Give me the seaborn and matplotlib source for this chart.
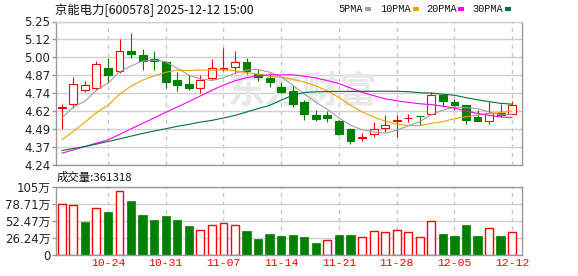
import numpy as np
import pandas as pd
import matplotlib
matplotlib.use("Agg")
import matplotlib.pyplot as plt
import seaborn as sns
from matplotlib.patches import Rectangle

# ---------------- data ----------------
title = "京能电力[600578] 2025-12-12 15:00"
opens = [4.64, 4.67, 4.765, 4.78, 4.92, 4.905, 5.04, 5.015, 4.985, 4.965,
         4.84, 4.81, 4.78, 4.85, 4.915, 4.927, 4.967, 4.88, 4.855, 4.79,
         4.762, 4.684, 4.594, 4.589, 4.55, 4.495, 4.433, 4.46, 4.502, 4.55,
         4.568, 4.587, 4.60, 4.736, 4.68, 4.66, 4.578, 4.55, 4.606, 4.60]
closes = [4.645, 4.81, 4.80, 4.95, 4.875, 5.04, 5.02, 4.975, 4.975, 4.825,
          4.805, 4.785, 4.84, 4.92, 4.92, 4.962, 4.903, 4.856, 4.825, 4.755,
          4.667, 4.597, 4.566, 4.568, 4.455, 4.412, 4.437, 4.495, 4.523, 4.555,
          4.572, 4.583, 4.73, 4.69, 4.66, 4.555, 4.55, 4.608, 4.59, 4.665]
highs = [4.67, 4.86, 4.83, 4.97, 4.99, 5.13, 5.17, 5.055, 5.04, 4.975,
         4.895, 4.875, 4.875, 4.985, 5.06, 5.043, 4.995, 4.913, 4.885, 4.825,
         4.795, 4.696, 4.63, 4.62, 4.56, 4.497, 4.464, 4.542, 4.589, 4.59,
         4.597, 4.587, 4.755, 4.74, 4.707, 4.662, 4.63, 4.68, 4.672, 4.69]
lows = [4.49, 4.64, 4.755, 4.765, 4.82, 4.885, 4.99, 4.91, 4.91, 4.785,
        4.76, 4.765, 4.745, 4.84, 4.90, 4.89, 4.88, 4.83, 4.79, 4.745,
        4.645, 4.56, 4.547, 4.542, 4.448, 4.39, 4.408, 4.436, 4.471, 4.436,
        4.542, 4.52, 4.597, 4.648, 4.625, 4.526, 4.548, 4.53, 4.578, 4.597]
ma5 = [4.571, 4.648, 4.689, 4.766, 4.816, 4.895, 4.937, 4.972, 4.977, 4.967,
       4.920, 4.873, 4.846, 4.835, 4.854, 4.885, 4.909, 4.912, 4.893, 4.860,
       4.801, 4.740, 4.682, 4.631, 4.571, 4.520, 4.488, 4.473, 4.464, 4.484,
       4.516, 4.546, 4.593, 4.626, 4.647, 4.644, 4.637, 4.613, 4.593, 4.594]
ma10 = [4.417, 4.476, 4.542, 4.608, 4.660, 4.738, 4.795, 4.837, 4.868, 4.892,
        4.908, 4.905, 4.909, 4.906, 4.911, 4.903, 4.891, 4.879, 4.864, 4.857,
        4.843, 4.825, 4.797, 4.762, 4.715, 4.660, 4.614, 4.578, 4.548, 4.528,
        4.518, 4.517, 4.533, 4.545, 4.566, 4.580, 4.591, 4.603, 4.609, 4.620]
ma20 = [4.323, 4.346, 4.370, 4.394, 4.417, 4.455, 4.495, 4.533, 4.571, 4.611,
        4.648, 4.686, 4.726, 4.766, 4.802, 4.833, 4.854, 4.868, 4.875, 4.874,
        4.875, 4.865, 4.853, 4.834, 4.813, 4.782, 4.752, 4.728, 4.706, 4.692,
        4.681, 4.671, 4.665, 4.654, 4.641, 4.620, 4.603, 4.590, 4.578, 4.574]
ma30 = [4.342, 4.356, 4.370, 4.387, 4.405, 4.424, 4.443, 4.462, 4.479, 4.495,
        4.512, 4.526, 4.542, 4.554, 4.571, 4.589, 4.613, 4.637, 4.660, 4.696,
        4.731, 4.750, 4.755, 4.757, 4.758, 4.758, 4.758, 4.759, 4.759, 4.759,
        4.756, 4.749, 4.746, 4.738, 4.731, 4.714, 4.699, 4.686, 4.674, 4.668]
volumes_wan = [79.1, 77.6, 50.2, 72.9, 65.7, 99.3, 82.8, 61.0, 53.3, 59.5,
               53.3, 45.0, 38.8, 46.5, 49.7, 46.5, 37.8, 25.3, 33.1, 30.0,
               31.2, 28.4, 19.1, 22.8, 31.0, 31.0, 27.9, 37.2, 35.7, 38.8,
               35.7, 27.9, 52.7, 32.6, 29.5, 46.5, 29.5, 41.9, 29.5, 36.13]
vol_up = [1, 1, 0, 1, 0, 1, 0, 0, 0, 0,
          0, 0, 1, 1, 1, 1, 0, 0, 0, 0,
          0, 0, 0, 1, 0, 0, 1, 1, 1, 1,
          1, 1, 1, 0, 0, 0, 0, 1, 0, 1]
volume_label = "成交量:361318"
date_labels = ["10-24", "10-31", "11-07", "11-14", "11-21", "11-28", "12-05", "12-12"]
date_positions = [4, 9, 14, 19, 24, 29, 34, 39]
price_tick_labels = ["4.24", "4.37", "4.49", "4.62", "4.74", "4.87", "5.00", "5.12", "5.25"]
vol_tick_values = [0, 26.24, 52.47, 78.71, 105]
vol_tick_labels = ["0", "26.24万", "52.47万", "78.71万", "105万"]
ma_names = ["5PMA", "10PMA", "20PMA", "30PMA"]

# ---------------- style ----------------
sns.set_theme(style="white")
plt.rcParams["font.family"] = ["DejaVu Sans", "Noto Sans CJK SC"]

RED = "#ff0000"
GREEN = "#008000"
ma_colors = {"5PMA": "#a0a0a0", "10PMA": "#f5a000", "20PMA": "#ff00ff", "30PMA": "#00703c"}
FRAME = "#999999"
GRID = "#d0d0d0"
LW = 0.8

W, H = 578, 276
fig = plt.figure(figsize=(W / 100, H / 100), dpi=100)
fig.patch.set_facecolor("white")


def fx(px):
    return px / W


def fy(py):
    return 1 - py / H


ax = fig.add_axes([fx(56), fy(165), fx(522) - fx(56), fy(21.5) - fy(165)])
axv = fig.add_axes([fx(56), fy(255), fx(522) - fx(56), fy(187) - fy(255)])

n = len(closes)
idx = np.arange(n)
xlim = (-0.5, n - 0.15)

# ---------------- price panel ----------------
price_ticks = np.linspace(4.24, 5.25, len(price_tick_labels))
ax.set_ylim(4.24, 5.25)
ax.set_xlim(*xlim)
ax.set_yticks(price_ticks)
ax.set_yticklabels(price_tick_labels)
ax.set_xticks(date_positions)
ax.set_xticklabels([])
ax.yaxis.grid(True, color=GRID, linewidth=1, linestyle="-")
ax.xaxis.grid(True, color="#c8c8c8", linewidth=1, linestyle=(0, (3, 3)))
ax.set_axisbelow(True)
ax.tick_params(axis="y", direction="out", length=3, width=1, color=FRAME,
               pad=1, labelsize=8.5, labelcolor="#222222", left=True)
ax.tick_params(axis="x", length=0)
for side in ["left", "right", "bottom"]:
    ax.spines[side].set_color(FRAME)
    ax.spines[side].set_linewidth(1)
ax.spines["top"].set_color(GRID)
ax.spines["top"].set_linewidth(1)

# watermark
ax.text(0.53, 0.51, "东方财富", transform=ax.transAxes, ha="center", va="center",
        fontsize=27, fontweight="bold", color="#e8e8e8", zorder=1,
        family=["Noto Sans CJK SC"])

# candles
body_w = 0.68
for i in range(n):
    o, c, h, l = opens[i], closes[i], highs[i], lows[i]
    up = c >= o
    col = RED if up else GREEN
    top, bot = max(o, c), min(o, c)
    ax.vlines(i, top, h, color=col, linewidth=LW, zorder=2)
    ax.vlines(i, l, bot, color=col, linewidth=LW, zorder=2)
    ax.bar(i, max(top - bot, 0.0015), bottom=bot, width=body_w,
           facecolor="white" if up else GREEN, edgecolor=col, linewidth=LW, zorder=2)

# moving averages
ma_df = pd.DataFrame({"idx": idx, "5PMA": ma5, "10PMA": ma10, "20PMA": ma20, "30PMA": ma30})
ma_long = ma_df.melt(id_vars="idx", var_name="ma", value_name="price")
sns.lineplot(data=ma_long, x="idx", y="price", hue="ma", palette=ma_colors,
             hue_order=ma_names, linewidth=LW, legend=False, ax=ax, zorder=3)
ax.set_xlabel("")
ax.set_ylabel("")
ax.set_xlim(*xlim)
ax.set_ylim(4.24, 5.25)

# ---------------- volume panel ----------------
axv.set_xlim(*xlim)
axv.set_ylim(0, 105)
for i in range(n):
    if vol_up[i]:
        axv.bar(i, volumes_wan[i], width=0.68, facecolor="white", edgecolor=RED,
                linewidth=1, zorder=2)
    else:
        axv.bar(i, volumes_wan[i], width=0.72, facecolor=GREEN, edgecolor=GREEN,
                linewidth=0.5, zorder=2)
axv.set_yticks(vol_tick_values)
axv.set_yticklabels(vol_tick_labels)
axv.set_xticks(date_positions)
axv.set_xticklabels(date_labels, color=RED, fontsize=8.2, family=["Liberation Mono"])
axv.yaxis.grid(True, color=GRID, linewidth=1, linestyle="-")
axv.xaxis.grid(True, color="#c8c8c8", linewidth=1, linestyle=(0, (3, 3)))
axv.set_axisbelow(True)
axv.tick_params(axis="y", direction="out", length=3, width=1, color=FRAME,
                pad=1, labelsize=8.5, labelcolor="#222222", left=True)
axv.tick_params(axis="x", length=0, pad=2)
for side in ["left", "right", "bottom", "top"]:
    axv.spines[side].set_color(FRAME)
    axv.spines[side].set_linewidth(1)

# ---------------- texts ----------------
fig.text(fx(55), fy(10), title, ha="left", va="center", fontsize=8.9,
         color="#111111", family=["Noto Sans CJK SC", "DejaVu Sans"])
fig.text(fx(57), fy(177), volume_label, ha="left", va="center", fontsize=8.2,
         color="#111111", family=["Noto Sans CJK SC", "DejaVu Sans"])

leg_x = [338, 380, 426, 472]
rect_x = [365, 413, 458, 505]
for name, lx, rx in zip(ma_names, leg_x, rect_x):
    fig.text(fx(lx), fy(9.5), name, ha="left", va="center", fontsize=7.4,
             color="#111111", family=["Liberation Mono"])
    fig.patches.append(Rectangle((fx(rx), fy(11)), 6 / W, 4 / H,
                                 transform=fig.transFigure, facecolor=ma_colors[name],
                                 edgecolor="none"))

fig.savefig("out.png", dpi=100)
